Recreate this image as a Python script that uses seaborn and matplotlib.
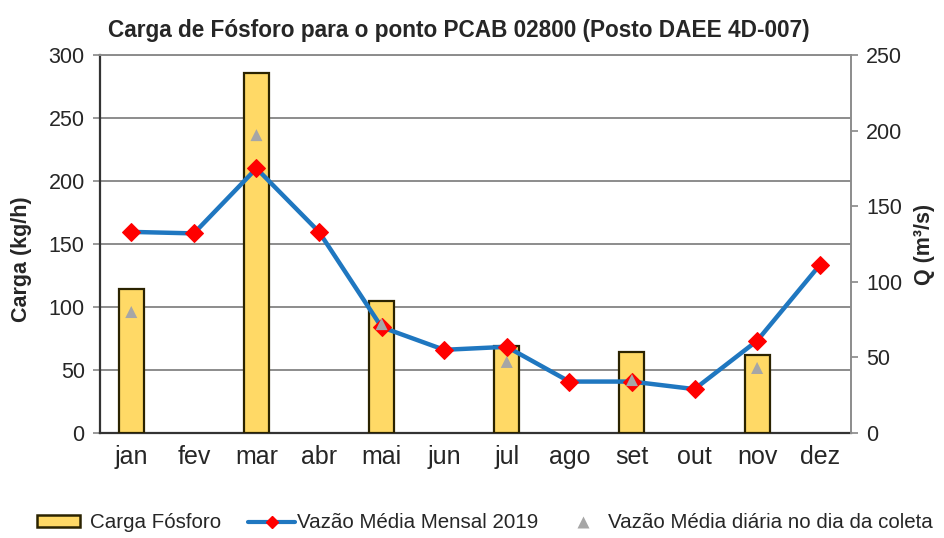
import numpy as np
import pandas as pd
import matplotlib
matplotlib.use("Agg")
import matplotlib.pyplot as plt
import seaborn as sns
from matplotlib.patches import Patch
from matplotlib.lines import Line2D

months = ["jan", "fev", "mar", "abr", "mai", "jun", "jul", "ago", "set", "out", "nov", "dez"]

# Phosphorus load (kg/h) on sampling months
load_months = ["jan", "mar", "mai", "jul", "set", "nov"]
load_values = [114, 286, 105, 69, 64, 62]

# Monthly mean flow 2019 (m3/s)
flow_monthly = [133, 132, 175, 133, 70, 55, 57, 34, 34, 29, 61, 111]

# Daily mean flow on sampling day (m3/s)
flow_daily = [80, 197, 72, 47, 35, 43]

legend_labels = ["Carga Fósforo", "Vazão Média Mensal 2019",
                 "Vazão Média diária no dia da coleta"]

BAR_COLOR = "#FFD966"
BAR_EDGE = "#2b2300"
LINE_COLOR = "#1F77C0"
MARK_COLOR = "#FF0000"
TRI_COLOR = "#A6A6A6"
GRID_COLOR = "#8c8c8c"

sns.set_theme(style="white")
plt.rcParams["font.family"] = ["Liberation Sans", "DejaVu Sans"]

fig = plt.figure(figsize=(9.45, 5.38), dpi=100)
ax = fig.add_axes([0.1058, 0.1952, 0.7947, 0.7026])

bars_df = pd.DataFrame({"mes": load_months, "carga": load_values})
sns.barplot(data=bars_df, x="mes", y="carga", order=months, ax=ax,
            color=BAR_COLOR, saturation=1, width=0.4,
            edgecolor=BAR_EDGE, linewidth=1.6, zorder=3)

ax.set_ylim(0, 300)
ax.set_xlim(-0.5, 11.5)
ax.set_yticks(np.arange(0, 301, 50))
ax.yaxis.grid(True, color=GRID_COLOR, linewidth=1.4, zorder=0)
ax.set_axisbelow(True)
ax.set_xlabel("")
ax.set_ylabel("Carga (kg/h)", fontsize=15.5, fontweight="bold")
ax.yaxis.set_label_coords(-0.091, 0.46)
ax.tick_params(axis="y", labelsize=15.5, length=5, color=GRID_COLOR, pad=6, left=True)
ax.tick_params(axis="x", labelsize=18, length=0, pad=9)
for side in ["left", "bottom"]:
    ax.spines[side].set_color("#333333")
    ax.spines[side].set_linewidth(1.6)
ax.spines["top"].set_color(GRID_COLOR)
ax.spines["top"].set_linewidth(1.4)
ax.spines["right"].set_visible(False)

ax2 = ax.twinx()
x_pos = np.arange(len(months))
sns.lineplot(x=x_pos, y=flow_monthly, ax=ax2, color=LINE_COLOR, linewidth=3.2,
             marker="D", markersize=9, markerfacecolor=MARK_COLOR,
             markeredgecolor=MARK_COLOR, zorder=4)
daily_pos = [months.index(m) for m in load_months]
sns.scatterplot(x=daily_pos, y=flow_daily, ax=ax2, marker="^", s=75,
                color=TRI_COLOR, edgecolor="none", zorder=5)
ax2.set_ylim(0, 250)
ax2.set_xlim(-0.5, 11.5)
ax2.set_yticks(np.arange(0, 251, 50))
ax2.set_ylabel("Q (m³/s)", fontsize=15.5, fontweight="bold", labelpad=8)
ax2.tick_params(axis="y", labelsize=15.5, length=5, color=GRID_COLOR, pad=6, right=True)
ax2.spines["right"].set_color(GRID_COLOR)
ax2.spines["right"].set_linewidth(1.4)
for side in ["left", "bottom", "top"]:
    ax2.spines[side].set_visible(False)

fig.text(0.485, 0.944, "Carga de Fósforo para o ponto PCAB 02800 (Posto DAEE 4D-007)",
         ha="center", va="center", fontsize=16.3, fontweight="bold")

# Legend entries placed side by side along the bottom edge:
# (handle, handle length, gap to text, left position)
entries = [
    (Patch(facecolor=BAR_COLOR, edgecolor=BAR_EDGE, linewidth=1.8), 2.1, 0.5, 0.039),
    (Line2D([], [], color=LINE_COLOR, linewidth=3, marker="D", markersize=6,
            markerfacecolor=MARK_COLOR, markeredgecolor=MARK_COLOR), 2.3, 0.1, 0.2624),
    (Line2D([], [], color="none", marker="^", markersize=8,
            markerfacecolor=TRI_COLOR, markeredgecolor="none"), 1.0, 0.7, 0.606),
]
for (handle, hlen, tpad, x0), label in zip(entries, legend_labels):
    fig.legend([handle], [label], loc="center left", bbox_to_anchor=(x0, 0.028),
               frameon=False, fontsize=14.8, handlelength=hlen, handleheight=0.5,
               handletextpad=tpad, borderpad=0, borderaxespad=0)

fig.savefig("out.png", dpi=100)
